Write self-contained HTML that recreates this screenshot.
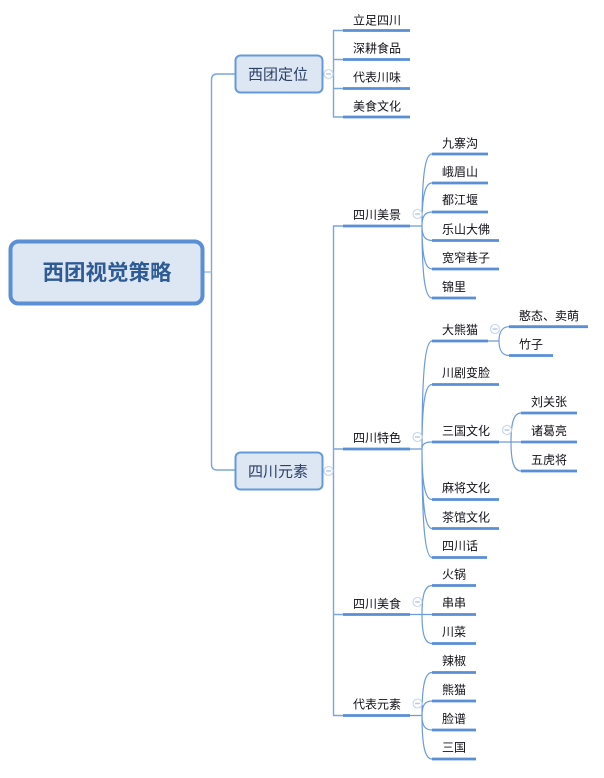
<!DOCTYPE html>
<html><head><meta charset="utf-8"><style>
html,body{margin:0;padding:0;background:#fff}
svg{display:block}
text{font-family:"Liberation Sans","Noto Sans CJK SC",sans-serif;font-size:12px;fill:#111118}
.u{stroke:#5a8fd6;stroke-width:2.8;fill:none}
.c{stroke:#6c9bdc;stroke-width:1.2;fill:none}
.t{stroke:#7ba6e0;stroke-width:1.4;fill:none}
.o{fill:#fff;stroke:#c5d4ee;stroke-width:1.1}
.m{stroke:#b5c8e8;stroke-width:1.4}
</style></head><body>
<svg width="604" height="778" viewBox="0 0 604 778" xmlns="http://www.w3.org/2000/svg">
<rect width="604" height="778" fill="#fff"/>
<!-- trunk -->
<path class="t" d="M235 74H217Q211.500 74 211.500 80V464Q211.500 470 217 470H235"/>
<path d="M204 272H211.500" stroke="#9dbde9" stroke-width="1.4" fill="none"/>
<path d="M323 74H333M323 471H333" stroke="#a9c4ea" stroke-width="1.2" fill="none"/>
<path class="t" d="M333.500 30.500V117M333.500 226V715.500"/>
<path d="M333 30.500H343M333 59.500H343M333 88.500H343M333 117H343M333 226H343M333 449H343M333 614.500H343M333 715.500H343" class="t"/>
<!-- root -->
<rect x="10.500" y="241.500" width="192" height="62" rx="8" fill="#dde6f3" stroke="#5a8fd6" stroke-width="4"/>
<text x="107" y="280" text-anchor="middle" style="font-size:21.5px;font-weight:bold;fill:#2f5b95">西团视觉策略</text>
<!-- level 1 -->
<rect x="235.500" y="55.500" width="87" height="37" rx="5" fill="#dde6f3" stroke="#659ada" stroke-width="2"/>
<text x="248" y="79.500" style="font-size:15px;fill:#2a3f66">西团定位</text>
<rect x="235.500" y="452.500" width="87" height="37" rx="5" fill="#dde6f3" stroke="#659ada" stroke-width="2"/>
<text x="248" y="476.500" style="font-size:15px;fill:#2a3f66">四川元素</text>
<!-- level 2 underlines -->
<path class="u" d="M343 30.500H410M343 59.500H410M343 88.500H410M343 117H410M343 226H410M343 449H410M343 614.500H410M343 715.500H410"/>
<text x="353" y="24.500">立足四川</text>
<text x="353" y="52.500">深耕食品</text>
<text x="353" y="81.500">代表川味</text>
<text x="353" y="110.500">美食文化</text>
<text x="353" y="219">四川美景</text>
<text x="353" y="442">四川特色</text>
<text x="353" y="608">四川美食</text>
<text x="353" y="708.500">代表元素</text>
<!-- connectors -->
<path class="c" d="M410 226H422M422 226C422 175.600 425 154 432 154M422 226C422 196 425 183 432 183M422 226C422 216 425 212 432 212M422 226C422 236 425 240.500 432 240.500M422 226C422 256 425 269 432 269M422 226C422 276 425 298 432 298"/>
<path class="c" d="M410 449H422M422 449C422 373 425 341 432 341M422 449C422 404 425 384.500 432 384.500M422 449C422 444 425 442 432 442M422 449C422 484 425 499.500 432 499.500M422 449C422 505 425 528.500 432 528.500M422 449C422 525 425 557.500 432 557.500"/>
<path class="c" d="M410 614.500H432M422 614.500C422 594 425 585.500 432 585.500M422 614.500C422 635 425 643.500 432 643.500"/>
<path class="c" d="M410 715.500H422M422 715.500C422 685 425 672.500 432 672.500M422 715.500C422 705 425 701 432 701M422 715.500C422 726 425 730 432 730M422 715.500C422 746 425 759 432 759"/>
<path class="c" d="M488 341H499M499 341C499 331 503 326.700 509 326.700M499 341C499 351 503 355.500 509 355.500"/>
<path class="c" d="M499 442H521M511 442C511 422 514 413 521 413M511 442C511 462 514 471 521 471"/>
<!-- level 3 underlines -->
<path class="u" d="M432 154H488M432 183H488M432 212H488M432 240.500H499M432 269H499M432 298H476"/>
<text x="442" y="147.500">九寨沟</text>
<text x="442" y="176">峨眉山</text>
<text x="442" y="204">都江堰</text>
<text x="442" y="233.500">乐山大佛</text>
<text x="442" y="262">宽窄巷子</text>
<text x="442" y="291">锦里</text>
<path class="u" d="M432 341H488M432 384.500H499M432 442H499M432 499.500H499M432 528.500H499M432 557.500H487"/>
<text x="442" y="334">大熊猫</text>
<text x="442" y="377">川剧变脸</text>
<text x="442" y="435">三国文化</text>
<text x="442" y="492">麻将文化</text>
<text x="442" y="521.500">茶馆文化</text>
<text x="442" y="550">四川话</text>
<path class="u" d="M432 585.500H476M432 614.500H476M432 643.500H476M432 672.500H476M432 701H476M432 730H476M432 759H476"/>
<text x="442" y="578.500">火锅</text>
<text x="442" y="607">串串</text>
<text x="442" y="636">川菜</text>
<text x="442" y="665">辣椒</text>
<text x="442" y="694">熊猫</text>
<text x="442" y="723">脸谱</text>
<text x="442" y="751.500">三国</text>
<!-- level 4 -->
<path class="u" d="M509 326.700H588M509 355.500H553M521 413H577M521 442H577M521 471H577"/>
<text x="519" y="320">憨态、卖萌</text>
<text x="519" y="348.500">竹子</text>
<text x="531" y="406">刘关张</text>
<text x="531" y="435">诸葛亮</text>
<text x="531" y="464">五虎将</text>
<!-- collapse markers -->
<g>
<circle class="o" cx="328.500" cy="74" r="4.500"/><path class="m" d="M326 74H331"/>
<circle class="o" cx="328.500" cy="471" r="4.500"/><path class="m" d="M326 471H331"/>
<circle class="o" cx="417.500" cy="214" r="4.500"/><path class="m" d="M415 214H420"/>
<circle class="o" cx="417.500" cy="437" r="4.500"/><path class="m" d="M415 437H420"/>
<circle class="o" cx="417.500" cy="602" r="4.500"/><path class="m" d="M415 602H420"/>
<circle class="o" cx="417.500" cy="703.500" r="4.500"/><path class="m" d="M415 703.500H420"/>
<circle class="o" cx="495" cy="329" r="4.500"/><path class="m" d="M492.500 329H497.500"/>
<circle class="o" cx="507" cy="430" r="4.500"/><path class="m" d="M504.500 430H509.500"/>
</g>
</svg>
</body></html>
